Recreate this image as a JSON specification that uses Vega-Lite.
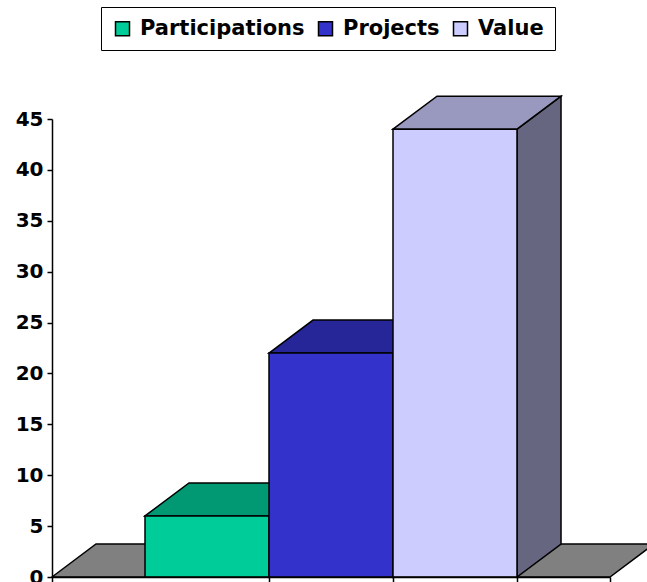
{
  "$schema": "https://vega.github.io/schema/vega-lite/v6.json",
  "width": 558,
  "height": 458,
  "autosize": {"type": "none"},
  "padding": {"left": 52, "top": 119, "right": 37, "bottom": 5},
  "background": "white",
  "params": [
    {"name": "dx", "value": 0.355},
    {"name": "dy", "value": 3.24}
  ],
  "data": {
    "values": [
      {"series": "Participations", "value": 6},
      {"series": "Projects", "value": 22},
      {"series": "Value", "value": 44}
    ]
  },
  "transform": [
    {"window": [{"op": "row_number", "as": "rn"}]},
    {"calculate": "datum.rn - 1", "as": "i"}
  ],
  "config": {
    "view": {"stroke": null},
    "axis": {
      "grid": false,
      "title": null,
      "domainColor": "black",
      "domainWidth": 1.5,
      "tickColor": "black",
      "tickWidth": 1.5,
      "tickSize": 5,
      "labelFont": "DejaVu Sans",
      "labelFontWeight": "bold",
      "labelFontSize": 20,
      "labelColor": "black"
    }
  },
  "layer": [
    {
      "transform": [
        {"aggregate": [{"op": "count", "as": "n"}]},
        {"calculate": "[-0.75, -0.75 + dx, datum.n + 0.75, datum.n + 0.75 + dx]", "as": "fx"},
        {"calculate": "[0, dy, dy, dy]", "as": "fy"},
        {"calculate": "[0, 0, 0, dy]", "as": "fy2"},
        {"flatten": ["fx", "fy", "fy2"]}
      ],
      "mark": {"type": "area", "fill": "#808080", "stroke": "black", "strokeWidth": 1.5},
      "encoding": {
        "x": {
          "field": "fx", "type": "quantitative",
          "scale": {"domain": [-0.75, 3.75], "nice": false, "zero": false},
          "axis": {"values": [-0.75, 1, 2, 3, 3.75], "labels": false, "zindex": 1}
        },
        "y": {
          "field": "fy", "type": "quantitative", "stack": null,
          "scale": {"domain": [0, 45], "nice": false},
          "axis": {"values": [0, 5, 10, 15, 20, 25, 30, 35, 40, 45], "labelPadding": 4, "zindex": 1}
        },
        "y2": {"field": "fy2"}
      }
    },
    {
      "transform": [
        {"calculate": "[datum.i + 1, datum.i + 1 + dx]", "as": "sx"},
        {"calculate": "[datum.value, datum.value + dy]", "as": "sy"},
        {"calculate": "[0, dy]", "as": "sy2"},
        {"flatten": ["sx", "sy", "sy2"]}
      ],
      "mark": {"type": "area", "stroke": "black", "strokeWidth": 1.5, "opacity": 1},
      "encoding": {
        "x": {"field": "sx", "type": "quantitative"},
        "y": {"field": "sy", "type": "quantitative", "stack": null},
        "y2": {"field": "sy2"},
        "color": {
          "field": "series", "type": "nominal",
          "scale": {"domain": ["Participations", "Projects", "Value"], "range": ["#006650", "#1A1A66", "#666680"]},
          "legend": null
        }
      }
    },
    {
      "transform": [
        {"calculate": "[datum.i, datum.i + dx, datum.i + 1, datum.i + 1 + dx]", "as": "tx"},
        {"calculate": "[datum.value, datum.value + dy, datum.value + dy, datum.value + dy]", "as": "ty"},
        {"calculate": "[datum.value, datum.value, datum.value, datum.value + dy]", "as": "ty2"},
        {"flatten": ["tx", "ty", "ty2"]}
      ],
      "mark": {"type": "area", "stroke": "black", "strokeWidth": 1.5, "opacity": 1},
      "encoding": {
        "x": {"field": "tx", "type": "quantitative"},
        "y": {"field": "ty", "type": "quantitative", "stack": null},
        "y2": {"field": "ty2"},
        "color": {
          "field": "series", "type": "nominal",
          "scale": {"domain": ["Participations", "Projects", "Value"], "range": ["#009973", "#262699", "#9999BF"]},
          "legend": null
        }
      }
    },
    {
      "transform": [
        {"calculate": "datum.i + 1", "as": "i1"}
      ],
      "mark": {"type": "rect", "stroke": "black", "strokeWidth": 1.5},
      "encoding": {
        "x": {"field": "i", "type": "quantitative"},
        "x2": {"field": "i1"},
        "y": {"field": "value", "type": "quantitative"},
        "y2": {"datum": 0},
        "color": {
          "field": "series", "type": "nominal",
          "scale": {"domain": ["Participations", "Projects", "Value"], "range": ["#00CC99", "#3333CC", "#CCCCFF"]},
          "legend": {
            "title": null,
            "orient": "none",
            "legendX": 49,
            "legendY": -112,
            "direction": "horizontal",
            "columns": 3,
            "symbolType": "square",
            "symbolSize": 196,
            "symbolStrokeColor": "black",
            "symbolStrokeWidth": 1.5,
            "symbolOpacity": 1,
            "labelFont": "DejaVu Sans",
            "labelFontWeight": "bold",
            "labelFontSize": 21,
            "labelColor": "black",
            "labelLimit": 400,
            "labelOffset": 7,
            "columnPadding": 10,
            "padding": 11,
            "fillColor": "white",
            "strokeColor": "black"
          }
        }
      }
    }
  ],
  "resolve": {"scale": {"color": "independent"}}
}
